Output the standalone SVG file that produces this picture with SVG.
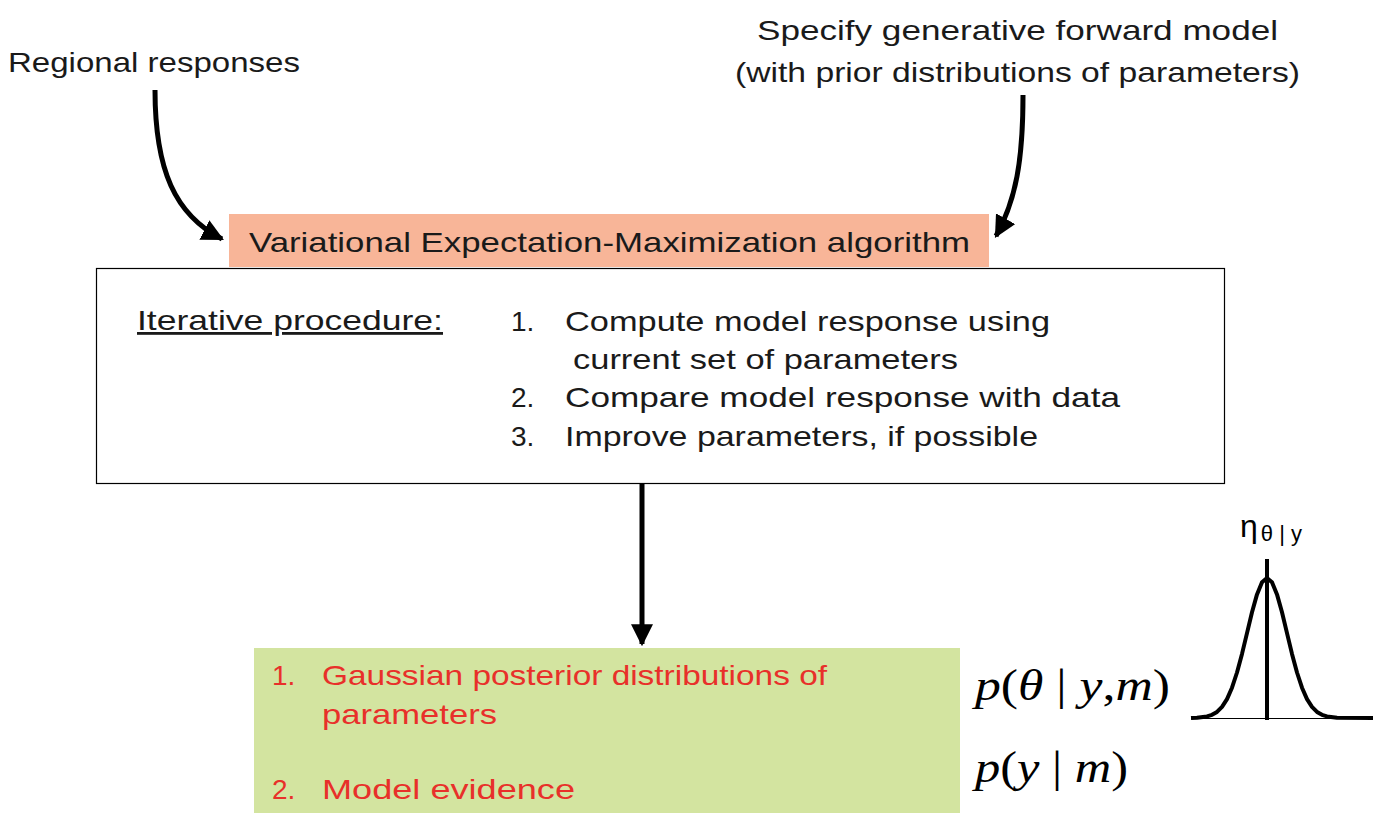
<svg xmlns="http://www.w3.org/2000/svg" width="1387" height="813" viewBox="0 0 1387 813">
<style>
.t{font-family:"Liberation Sans",Arial,sans-serif;font-size:28px;fill:#1a1a1a}
.r{font-family:"Liberation Sans",Arial,sans-serif;font-size:28px;fill:#e8302a}
.m{font-family:"Liberation Serif","Times New Roman",serif;font-size:44px;fill:#000}
.conn{fill:none;stroke:#000;stroke-width:5}
</style>
<defs>
<marker id="ah" viewBox="0 0 10 10" refX="9" refY="5" markerWidth="4.4" markerHeight="4.4" orient="auto" markerUnits="strokeWidth">
<path d="M0,0 L10,5 L0,10 z" fill="#000"/>
</marker>
</defs>
<rect width="1387" height="813" fill="#fff"/>
<g id="regional"><text class="t" x="8" y="72" textLength="292" lengthAdjust="spacingAndGlyphs">Regional responses</text></g>
<g id="specify">
<text class="t" x="757" y="40" textLength="521" lengthAdjust="spacingAndGlyphs">Specify generative forward model</text>
<text class="t" x="735" y="82" textLength="565" lengthAdjust="spacingAndGlyphs">(with prior distributions of parameters)</text>
</g>
<g id="vem">
<rect x="229" y="214" width="760" height="53" fill="#f8b598"/>
<text class="t" x="249" y="252" textLength="721" lengthAdjust="spacingAndGlyphs">Variational Expectation-Maximization algorithm</text>
</g>
<g id="procedure">
<rect x="96.5" y="268.5" width="1128" height="215" fill="#fff" stroke="#000" stroke-width="1.2"/>
<text class="t" x="137" y="330" textLength="306" lengthAdjust="spacingAndGlyphs" text-decoration="underline">Iterative procedure:</text>
<text class="t" x="511" y="331">1.</text>
<text class="t" x="565" y="331" textLength="485" lengthAdjust="spacingAndGlyphs">Compute model response using</text>
<text class="t" x="573" y="369" textLength="385" lengthAdjust="spacingAndGlyphs">current set of parameters</text>
<text class="t" x="511" y="407">2.</text>
<text class="t" x="565" y="407" textLength="555" lengthAdjust="spacingAndGlyphs">Compare model response with data</text>
<text class="t" x="511" y="446">3.</text>
<text class="t" x="565" y="446" textLength="473" lengthAdjust="spacingAndGlyphs">Improve parameters, if possible</text>
</g>
<g id="results">
<rect x="254" y="648" width="706" height="165" fill="#d3e4a0"/>
<text class="r" x="272" y="685">1.</text>
<text class="r" x="322" y="685" textLength="505" lengthAdjust="spacingAndGlyphs">Gaussian posterior distributions of</text>
<text class="r" x="322" y="724" textLength="175" lengthAdjust="spacingAndGlyphs">parameters</text>
<text class="r" x="272" y="799">2.</text>
<text class="r" x="322" y="799" textLength="253" lengthAdjust="spacingAndGlyphs">Model evidence</text>
</g>
<g id="math">
<text class="m" x="975" y="700" textLength="195" lengthAdjust="spacingAndGlyphs"><tspan font-style="italic">p</tspan>(<tspan font-style="italic">θ</tspan> | <tspan font-style="italic">y</tspan>,<tspan font-style="italic">m</tspan>)</text>
<text class="m" x="975" y="782" textLength="153" lengthAdjust="spacingAndGlyphs"><tspan font-style="italic">p</tspan>(<tspan font-style="italic">y</tspan> | <tspan font-style="italic">m</tspan>)</text>
</g>
<g id="gaussian">
<line x1="1191" y1="718.5" x2="1373" y2="718.5" stroke="#000" stroke-width="1"/>
<polyline points="1191,718 1197,717.7 1207,716.4 1212,714.8 1217,711.9 1222,706.9 1227,699.1 1232,687.7 1237,672.5 1242,653.9 1247,633.1 1252,612.3 1257,594.4 1262,582.3 1267,578 1272,582.3 1277,594.4 1282,612.3 1287,633.1 1292,653.9 1297,672.5 1302,687.7 1307,699.1 1312,706.9 1317,711.9 1322,714.8 1327,716.4 1337,717.7 1373,718" fill="none" stroke="#000" stroke-width="4" stroke-linejoin="round"/>
<line x1="1267" y1="559" x2="1267" y2="720" stroke="#000" stroke-width="4"/>
<text x="1240" y="537" font-family="'Liberation Sans',Arial,sans-serif" font-size="32" fill="#000">η<tspan font-size="22" dy="4" dx="3">θ | y</tspan></text>
</g>
<g id="connectors">
<path class="conn" d="M155,90 C155,170 175,215 222,239" marker-end="url(#ah)"/>
<path class="conn" d="M1023,95 C1023,160 1016,200 996,236" marker-end="url(#ah)"/>
<path class="conn" d="M642,484 L642,644" marker-end="url(#ah)"/>
</g>
</svg>
